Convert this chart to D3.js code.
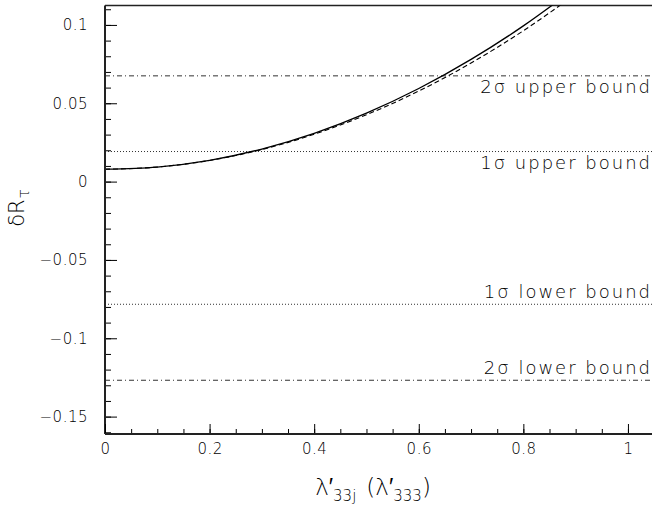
<!DOCTYPE html>
<html>
<head>
<meta charset="utf-8">
<script src="https://cdn.jsdelivr.net/npm/d3@7"></script>
<style>
  body { margin: 0; background: #fff; }
  svg { display: block; }
  text { font-family: "DejaVu Sans", sans-serif; font-weight: 200; fill: #000; }
</style>
</head>
<body>
<svg id="chart" width="652" height="505"></svg>
<script>
// curve values
var lambdaVals = [0, 0.1, 0.2, 0.3, 0.4, 0.5, 0.6, 0.7, 0.8, 0.9];
var solidVals  = [0.0079, 0.0093, 0.0136, 0.0208, 0.0308, 0.0437, 0.0594, 0.0780, 0.0994, 0.1237];
var dashedVals = [0.0079, 0.0093, 0.0135, 0.0205, 0.0302, 0.0427, 0.0578, 0.0757, 0.0963, 0.1197];

// bounds
var boundNames  = ["2σ upper bound", "1σ upper bound", "1σ lower bound", "2σ lower bound"];
var boundValues = [0.0675, 0.0192, -0.0783, -0.1268];
var boundStyles = ["dashdot", "dot", "dot", "dashdot"];

var xTicks = [0, 0.2, 0.4, 0.6, 0.8, 1];
var xTickLabels = ["0", "0.2", "0.4", "0.6", "0.8", "1"];
var yTicks = [0.1, 0.05, 0, -0.05, -0.1, -0.15];
var yTickLabels = ["0.1", "0.05", "0", "\u22120.05", "\u22120.1", "\u22120.15"];

var svg = d3.select("#chart");
var marge = {top: 5.5, left: 105, bottom: 434, right: 652};

var x = d3.scaleLinear().domain([0, 1.046]).range([marge.left, marge.right]);
var y = d3.scaleLinear().domain([-0.1611, 0.1124]).range([marge.bottom, marge.top]);

svg.append("defs").append("clipPath").attr("id", "clip")
  .append("rect")
  .attr("x", marge.left).attr("y", marge.top)
  .attr("width", marge.right - marge.left).attr("height", marge.bottom - marge.top);

// frame top line
svg.append("line")
  .attr("x1", marge.left).attr("x2", marge.right)
  .attr("y1", marge.top).attr("y2", marge.top)
  .attr("stroke", "#222").attr("stroke-width", 1.5);

// bound lines
var dashes = {dashdot: "5,3,1,3", dot: "1,2"};
svg.append("g").selectAll("line")
  .data(boundValues)
  .enter()
  .append("line")
  .attr("x1", marge.left).attr("x2", marge.right)
  .attr("y1", function(d) { return y(d); })
  .attr("y2", function(d) { return y(d); })
  .attr("stroke", "#333")
  .attr("stroke-width", 1)
  .attr("stroke-dasharray", function(d, i) { return dashes[boundStyles[i]]; });

// bound labels: below upper lines, above lower lines
svg.append("g").selectAll("text")
  .data(boundValues)
  .enter()
  .append("text")
  .attr("x", 652)
  .attr("y", function(d) { return d > 0 ? y(d) + 17 : y(d) - 6; })
  .attr("text-anchor", "end")
  .attr("font-size", 18)
  .attr("letter-spacing", 2)
  .text(function(d, i) { return boundNames[i]; });

// curves
var line = d3.line()
  .x(function(d) { return x(d[0]); })
  .y(function(d) { return y(d[1]); })
  .curve(d3.curveMonotoneX);

var curves = svg.append("g").attr("clip-path", "url(#clip)");
curves.append("path")
  .attr("d", line(d3.zip(lambdaVals, solidVals)))
  .attr("fill", "none").attr("stroke", "#000").attr("stroke-width", 1.3);
curves.append("path")
  .attr("d", line(d3.zip(lambdaVals, dashedVals)))
  .attr("fill", "none").attr("stroke", "#000").attr("stroke-width", 1.1)
  .attr("stroke-dasharray", "5,3");

// y axis
var yMinor = d3.range(-0.16, 0.115, 0.01);
svg.append("g")
  .attr("transform", "translate(" + marge.left + ",0)")
  .call(d3.axisLeft(y).tickValues(yMinor).tickSize(-6).tickFormat(""))
  .call(function(g) { g.select(".domain").remove(); });
var gy = svg.append("g")
  .attr("transform", "translate(" + marge.left + ",0)")
  .call(d3.axisLeft(y).tickValues(yTicks).tickSize(-12).tickPadding(17)
    .tickFormat(function(d, i) { return yTickLabels[i]; }));
gy.select(".domain").remove();
gy.selectAll("text").attr("font-size", 15).attr("font-family", null).attr("letter-spacing", 0.5);
svg.append("line")
  .attr("x1", marge.left).attr("x2", marge.left)
  .attr("y1", marge.top).attr("y2", marge.bottom)
  .attr("stroke", "#222").attr("stroke-width", 2);

// x axis
var xMinor = d3.range(0, 1.05, 0.05);
svg.append("g")
  .attr("transform", "translate(0," + marge.bottom + ")")
  .call(d3.axisBottom(x).tickValues(xMinor).tickSize(-5).tickFormat(""))
  .call(function(g) { g.select(".domain").remove(); });
var gx = svg.append("g")
  .attr("transform", "translate(0," + marge.bottom + ")")
  .call(d3.axisBottom(x).tickValues(xTicks).tickSize(-10).tickPadding(9)
    .tickFormat(function(d, i) { return xTickLabels[i]; }));
gx.select(".domain").remove();
gx.selectAll("text").attr("font-size", 15).attr("font-family", null).attr("letter-spacing", 0.5);
svg.append("line")
  .attr("x1", marge.left).attr("x2", marge.right)
  .attr("y1", marge.bottom).attr("y2", marge.bottom)
  .attr("stroke", "#222").attr("stroke-width", 2);

// axis titles
var yt = svg.append("text")
  .attr("transform", "translate(24,208) rotate(-90)")
  .attr("text-anchor", "middle")
  .attr("font-size", 21);
yt.append("tspan").text("δR");
yt.append("tspan").attr("dy", 5).attr("dx", 1).attr("font-size", 15).text("τ");

var xt = svg.append("text")
  .attr("x", 373).attr("y", 495)
  .attr("text-anchor", "middle")
  .attr("font-size", 23);
xt.append("tspan").text("λ′");
xt.append("tspan").attr("dy", 6).attr("font-size", 15).text("33j");
xt.append("tspan").attr("dy", -6).attr("dx", 10).text("(λ′");
xt.append("tspan").attr("dy", 6).attr("font-size", 15).text("333");
xt.append("tspan").attr("dy", -6).text(")");
</script>
</body>
</html>
